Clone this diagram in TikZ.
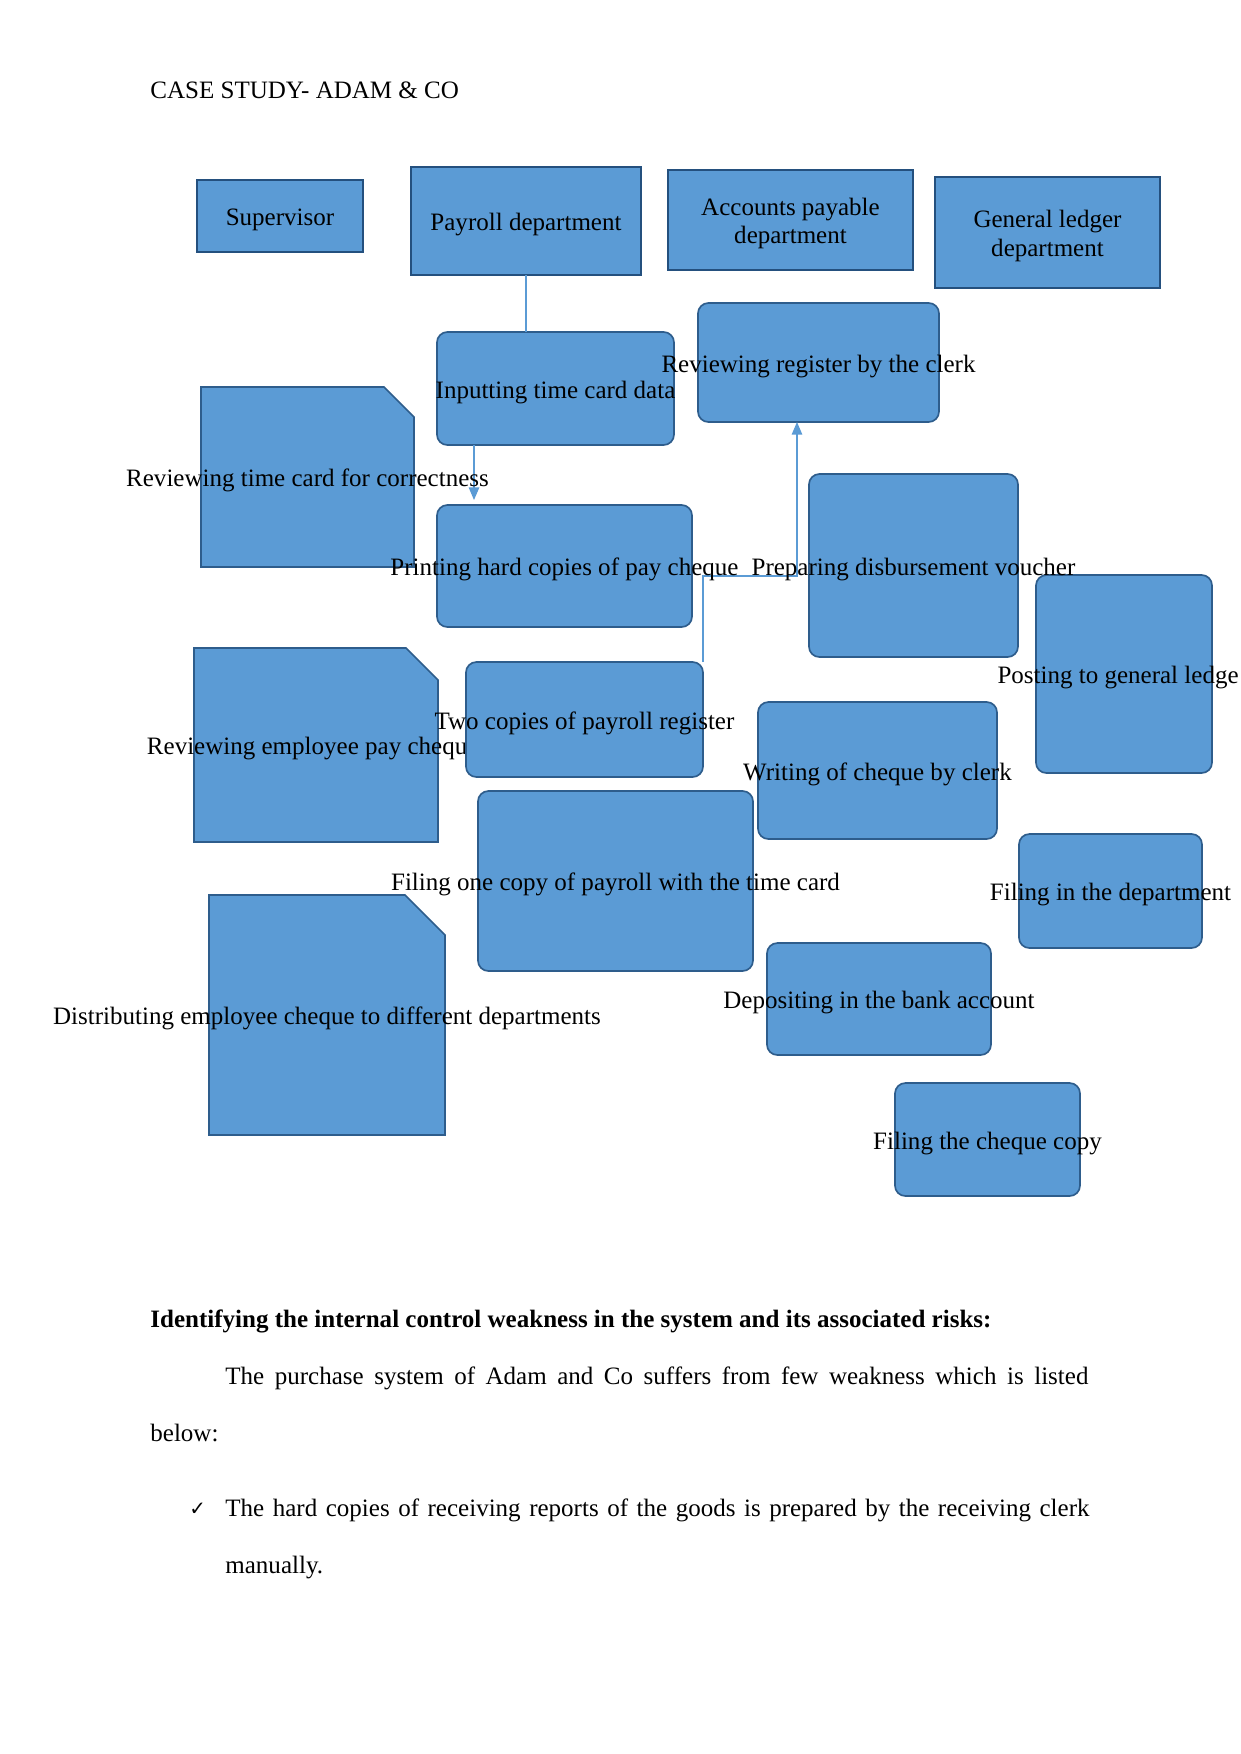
\documentclass[tikz,border=0pt]{standalone}
\usepackage{fontspec}
\setmainfont{Liberation Serif}
\newfontfamily\symfont{DejaVu Sans}
\usetikzlibrary{arrows.meta}
\definecolor{boxfill}{HTML}{5B9BD5}
\definecolor{boxline}{HTML}{2E5D8C}
\definecolor{rectline}{HTML}{24507E}
\definecolor{connc}{HTML}{5B9BD5}
\newcommand\mkbox[6]{\node[#1, minimum width={(#5-#3)*0.47968pt}, minimum height={(#6-#4)*0.47968pt}] (#2) at ({(#3+#5)/2},{(#4+#6)/2}) {};}
\newcommand\mkcham[6]{\filldraw[chamf] (#2,#3) -- ({#4-#6},#3) -- (#4,{#3+#6}) -- (#4,#5) -- (#2,#5) -- cycle; \mkbox{ghost}{#1}{#2}{#3}{#4}{#5}}
\tikzset{
  rectbox/.style={draw=rectline, fill=boxfill, line width=1pt, inner sep=0pt, outer sep=0pt},
  roundbox/.style={draw=boxline, fill=boxfill, line width=0.8pt, rounded corners=5pt, inner sep=0pt, outer sep=0pt},
  chamf/.style={draw=boxline, fill=boxfill, line width=0.8pt},
  ghost/.style={draw=none, inner sep=0pt, outer sep=0pt},
  lbl/.style={font=\fontsize{12}{13.8}\selectfont, inner sep=0pt, align=center, text=black, yshift=-1.7pt},
  conn/.style={draw=connc, line width=0.5pt},
  arr/.style={conn, -{Triangle[length=6pt,width=5pt]}},
  body/.style={font=\fontsize{12}{13.8}\selectfont, inner sep=0pt, anchor=base west},
}
\begin{document}
\begin{tikzpicture}[x=0.47968pt,y=-0.47968pt]
\useasboundingbox (0,0) rectangle (1241,1754);
\clip (0,0) rectangle (1241,1754);
\fill[white] (0,0) rectangle (1241,1754);

% header boxes
\mkbox{rectbox}{sup}{197}{180}{363}{252}
\mkbox{rectbox}{pay}{411}{167}{641}{275}
\mkbox{rectbox}{ap}{668}{170}{913}{270}
\mkbox{rectbox}{gl}{935}{177}{1160}{288}

% process boxes
\mkbox{roundbox}{inp}{437}{332}{674}{445}
\mkbox{roundbox}{rrc}{698}{303}{939}{422}
\mkcham{rtc}{201}{387}{414}{567}{30}
\mkbox{roundbox}{prt}{437}{505}{692}{627}
\mkbox{roundbox}{pdv}{809}{474}{1018}{657}
\mkbox{roundbox}{pgl}{1036}{575}{1212}{773}
\mkcham{rep}{194}{648}{438}{842}{32}
\node[lbl] (rep-t) at ([xshift=-1.6pt]rep.center) {Reviewing employee pay cheque};
\mkbox{roundbox}{two}{466}{662}{703}{777}
\mkbox{roundbox}{wcc}{758}{702}{997}{839}
\mkbox{roundbox}{fop}{478}{791}{753}{971}
\mkbox{roundbox}{fid}{1019}{834}{1202}{948}
\mkcham{dec}{209}{895}{445}{1135}{40}
\mkbox{roundbox}{dba}{767}{943}{991}{1055}
\mkbox{roundbox}{fcc}{895}{1083}{1080}{1196}

% connectors
\draw[conn] (pay.south) -- (pay.south |- inp.north);
\draw[arr, shorten >=2.4pt] ([xshift=17.75pt]inp.south west) -- ([xshift=17.75pt]inp.south west |- prt.north);
\coordinate (bend) at (797,576);
\draw[arr] (two.north east) |- (bend) -- (bend |- rrc.south);

% labels
\node[lbl] (sup-t) at (sup.center) {Supervisor};
\node[lbl] (pay-t) at (pay.center) {Payroll department};
\node[lbl] (ap-t) at (ap.center) {Accounts payable\\department};
\node[lbl] (gl-t) at (gl.center) {General ledger\\department};
\node[lbl] (inp-t) at (inp.center) {Inputting time card data};
\node[lbl] (rrc-t) at (rrc.center) {Reviewing register by the clerk};
\node[lbl] (rtc-t) at (rtc.center) {Reviewing time card for correctness};
\node[lbl] (prt-t) at (prt.center) {Printing hard copies of pay cheque};
\node[lbl] (pdv-t) at (pdv.center) {Preparing disbursement voucher};
\node[lbl, anchor=east] (pgl-t) at (1239,674) {Posting to general ledge};
\node[lbl] (two-t) at (two.center) {Two copies of payroll register};
\node[lbl] (wcc-t) at (wcc.center) {Writing of cheque by clerk};
\node[lbl] (fop-t) at (fop.center) {Filing one copy of payroll with the time card};
\node[lbl] (fid-t) at (fid.center) {Filing in the department};
\node[lbl] (dec-t) at (dec.center) {Distributing employee cheque to different departments};
\node[lbl] (dba-t) at (dba.center) {Depositing in the bank account};
\node[lbl] (fcc-t) at (fcc.center) {Filing the cheque copy};

% page text
\node[body] (title) at (150,98) {CASE STUDY- ADAM \& CO};
\node[body] (head) at (150,1327) {\bfseries Identifying the internal control weakness in the system and its associated risks:};
\node[body] (p1) at (225,1384) {\makebox[414pt][s]{The purchase system of Adam and Co suffers from few weakness which is listed}};
\node[body] (p2) at (150,1441) {below:};
\node[body] (chk) at (189,1515) {\symfont\fontsize{9.5}{11}\selectfont ✓};
\node[body] (b1) at (225,1516) {\makebox[414.5pt][s]{The hard copies of receiving reports of the goods is prepared by the receiving clerk}};
\node[body] (b2) at (225,1573) {manually.};
\end{tikzpicture}
\end{document}
